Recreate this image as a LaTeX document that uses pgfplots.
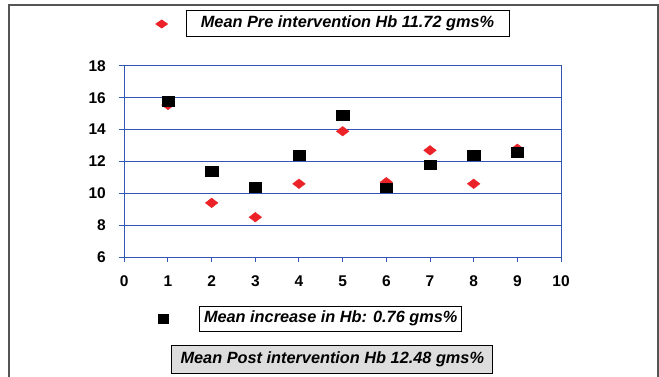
\documentclass[border=0pt]{standalone}
\usepackage{pgfplots}
\pgfplotsset{compat=1.18}
\usepackage{fontspec}
\setmainfont{Liberation Sans}
\definecolor{axisblue}{RGB}{52,86,178}
\definecolor{dred}{RGB}{235,35,40}
\definecolor{framegray}{RGB}{85,85,85}
\definecolor{boxgray}{RGB}{221,221,221}
\begin{document}
\begin{tikzpicture}[x=1bp,y=1bp]
\useasboundingbox (0,0) rectangle (659,376);
% outer frame
\draw[framegray, line width=2bp] (9,-5) -- (9,371);
\draw[framegray, line width=1.5bp] (8,371) -- (658,371) -- (658,-5);
\begin{axis}[
  at={(124.3bp,119bp)}, anchor=south west,
  scale only axis, width=436.7bp, height=191bp,
  xmin=0, xmax=10, ymin=6, ymax=18,
  xtick={0,1,...,10}, ytick={6,8,...,18},
  xtick pos=left, ytick pos=left,
  tick align=outside, major tick length=5bp,
  axis line style={axisblue, line width=1bp},
  tick style={axisblue, line width=1bp},
  ymajorgrids, grid style={axisblue, line width=1bp},
  ticklabel style={font=\bfseries\fontsize{15.5bp}{16bp}\selectfont, text=black},
  yticklabel style={xshift=-10bp},
  xticklabel style={yshift=-10bp},
  /pgf/number format/assume math mode=true,
  clip=false,
]
\addplot[only marks, mark=diamond*, mark size=4.8bp, mark options={xscale=1.75, fill=dred, draw=dred}]
  coordinates {(1,15.55) (2,9.4) (3,8.5) (4,10.6) (5,13.9) (6,10.7) (7,12.7) (8,10.6) (9,12.8)};
\addplot[only marks, mark=square*, mark size=4.8bp, mark options={xscale=1.3, fill=black, draw=black}]
  coordinates {(1,15.8) (2,11.4) (3,10.4) (4,12.4) (5,14.9) (6,10.35) (7,11.8) (8,12.4) (9,12.6)};
\end{axis}
% legend keys and boxes
\fill[dred] (155.2,352) -- (161.7,356.5) -- (168.2,352) -- (161.7,347.5) -- cycle;
\node[draw=black, line width=1bp, minimum width=323bp, minimum height=25bp, inner sep=0pt,
  font=\bfseries\itshape\fontsize{16.3bp}{18bp}\selectfont] at (347.5,352.5) {Mean Pre intervention Hb 11.72 gms\%};
\fill[black] (158,52.5) rectangle (168.5,62.5);
\node[draw=black, line width=1bp, minimum width=261.5bp, minimum height=25bp, inner sep=0pt,
  font=\bfseries\itshape\fontsize{16.3bp}{18bp}\selectfont] at (330.7,57.5) {Mean increase in Hb: 0.76 gms\%};
\node[draw=black, fill=boxgray, line width=1bp, minimum width=321bp, minimum height=28bp, inner sep=0pt,
  font=\bfseries\itshape\fontsize{16.3bp}{18bp}\selectfont] at (332.3,17) {Mean Post intervention Hb 12.48 gms\%};
\end{tikzpicture}
\end{document}
